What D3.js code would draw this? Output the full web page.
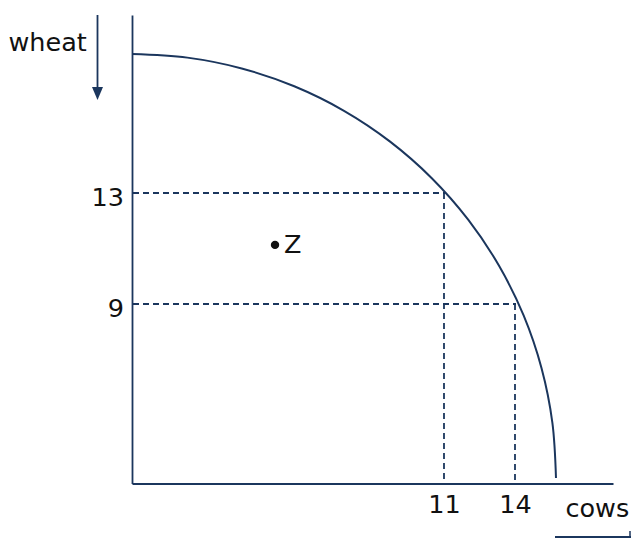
<!DOCTYPE html>
<html>
<head>
<meta charset="utf-8">
<script src="https://cdn.jsdelivr.net/npm/d3@7/dist/d3.min.js"></script>
<style>
  html, body { margin: 0; padding: 0; background: #fff; }
  svg { display: block; }
  text { font-family: "DejaVu Sans", Verdana, sans-serif; fill: #111; }
</style>
</head>
<body>
<svg id="chart" width="631" height="540"></svg>
<script>
// ---- data ----
const xTicks = [11, 14];          // cows
const yTicks = [13, 9];           // wheat (paired with xTicks)
const curveX = [-2.183, 0.155, 2.454, 4.673, 6.775, 8.723, 10.485, 12.030, 13.332, 14.369, 15.122, 15.579, 15.732];
const curveY = [18.009, 17.878, 17.488, 16.846, 15.962, 14.852, 13.534, 12.031, 10.369, 8.577, 6.684, 4.724, 2.730];
const pointZ = { label: "Z", x: 3.86, y: 11.13 };
const xLabel = "cows";
const yLabel = "wheat";

// ---- layout ----
const navy = "#1b365d";
const FS = 25.5;
const svg = d3.select("#chart");
const x = d3.scaleLinear().domain([-2.183, 18.141]).range([132, 613]);
const y = d3.scaleLinear().domain([2.532, 19.414]).range([483.5, 15]);
const x0 = x.domain()[0], y0 = y.domain()[0];

// dashed guide lines
const pairs = xTicks.map((v, i) => ({ cx: v, wy: yTicks[i] }));
const guides = svg.append("g")
  .attr("stroke", navy).attr("stroke-width", 1.8).attr("stroke-dasharray", "6,4").attr("fill", "none");
guides.selectAll("line.h").data(pairs).join("line").attr("class", "h")
  .attr("x1", x(x0) + 1).attr("x2", d => x(d.cx) + 1).attr("y1", d => y(d.wy)).attr("y2", d => y(d.wy));
guides.selectAll("line.v").data(pairs).join("line").attr("class", "v")
  .attr("x1", d => x(d.cx)).attr("x2", d => x(d.cx)).attr("y1", d => y(d.wy)).attr("y2", y(y0));

// PPF curve
const pts = curveX.map((v, i) => [v, curveY[i]]);
svg.append("path").datum(pts)
  .attr("fill", "none").attr("stroke", navy).attr("stroke-width", 2)
  .attr("d", d3.line().x(d => x(d[0])).y(d => y(d[1])).curve(d3.curveCatmullRom));

// axes
const xAxis = svg.append("g").attr("transform", `translate(0,${y(y0)})`)
  .call(d3.axisBottom(x).tickValues(xTicks).tickSize(0).tickPadding(11.5).tickFormat(d3.format("d")));
const yAxis = svg.append("g").attr("transform", `translate(${x(x0)},0)`)
  .call(d3.axisLeft(y).tickValues(yTicks).tickSize(0).tickPadding(8).tickFormat(d3.format("d")));
[xAxis, yAxis].forEach(g => {
  g.select(".domain").attr("stroke", navy).attr("stroke-width", 1.8);
  g.selectAll("text").attr("font-size", FS).attr("font-family", "DejaVu Sans, Verdana, sans-serif").attr("fill", "#111");
});
yAxis.selectAll("text").attr("dy", "0.48em");

// point Z
svg.append("circle").attr("cx", x(pointZ.x)).attr("cy", y(pointZ.y)).attr("r", 4.2).attr("fill", "#111");
svg.append("text").attr("x", x(pointZ.x) + 9).attr("y", y(pointZ.y) + 8.5)
  .attr("font-size", FS).text(pointZ.label);

// wheat label with down arrow
svg.append("text").attr("x", 8.5).attr("y", 51).attr("font-size", FS).text(yLabel);
svg.append("line").attr("x1", 97.5).attr("x2", 97.5).attr("y1", 15).attr("y2", 90)
  .attr("stroke", navy).attr("stroke-width", 1.8);
svg.append("path").attr("d", "M92,87 L103,87 L97.5,100 Z").attr("fill", navy);

// cows label with arrow line
svg.append("text").attr("x", 565.5).attr("y", 517).attr("font-size", FS).text(xLabel);
svg.append("line").attr("x1", 555).attr("x2", 631).attr("y1", 537).attr("y2", 537)
  .attr("stroke", navy).attr("stroke-width", 1.8);
svg.append("line").attr("x1", 630).attr("x2", 630).attr("y1", 531).attr("y2", 538)
  .attr("stroke", navy).attr("stroke-width", 1.5);
</script>
</body>
</html>
